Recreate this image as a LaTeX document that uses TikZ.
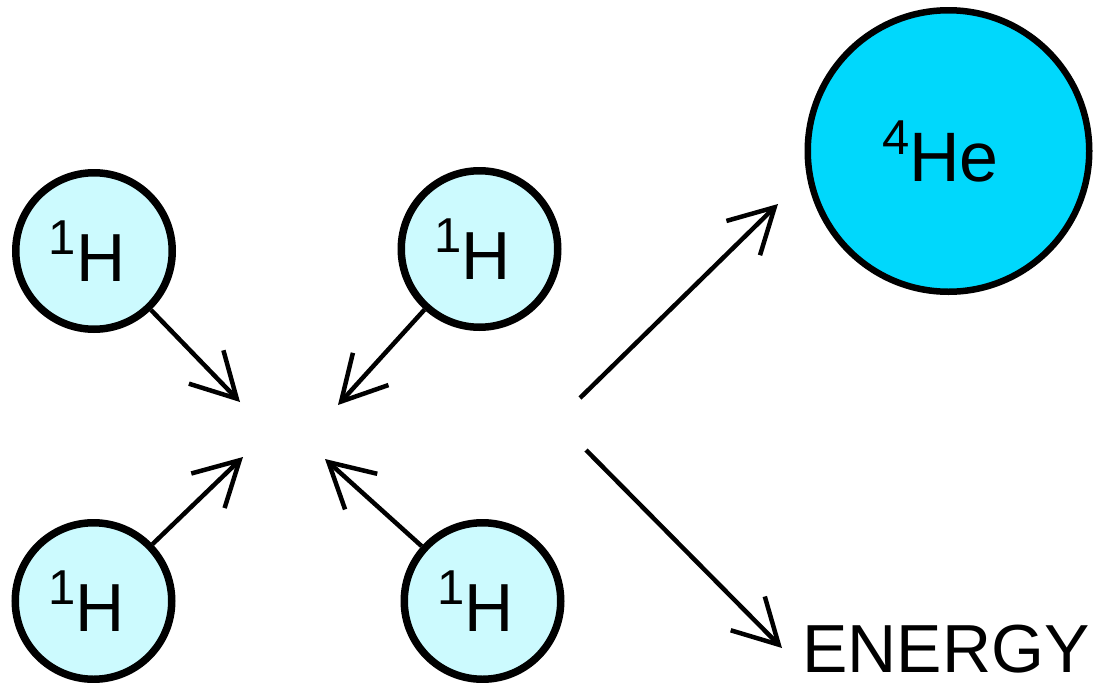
\documentclass[tikz,border=0pt]{standalone}
\usepackage{fontspec}
\setmainfont{Liberation Sans}
\usetikzlibrary{arrows.meta}

\definecolor{hydrogen}{RGB}{204,250,254}
\definecolor{helium}{RGB}{0,216,252}

% mass number raised in front of the element symbol
\newcommand{\nuclide}[2]{\raisebox{27pt}{\fontsize{49}{49}\selectfont #1}#2}

\tikzset{
  proton/.style={circle, draw=black, line width=7.5pt, fill=hydrogen,
    minimum size=156.5pt, inner sep=0pt},
  heliumnuc/.style={circle, draw=black, line width=6.5pt, fill=helium,
    minimum size=281.5pt, inner sep=0pt},
  symbol/.style={inner sep=0pt, font=\fontsize{68}{68}\selectfont},
  bigsymbol/.style={inner sep=0pt, font=\fontsize{70}{70}\selectfont},
  caption/.style={inner sep=0pt, font=\fontsize{68}{68}\selectfont},
  flow/.style={line width=4.5pt, -{Straight Barb[length=44pt, width=48pt]}},
}

\begin{document}
\begin{tikzpicture}[x=1pt, y=-1pt]
  \path[use as bounding box] (0,0) rectangle (1104,683);

  % four hydrogen nuclei
  \node[proton] (h1) at (94,251) {};
  \node[proton] (h2) at (479.5,249) {};
  \node[proton] (h3) at (93.5,601) {};
  \node[proton] (h4) at (482.5,601) {};
  \node[symbol] (h1l) at ([xshift=-7pt]h1.center) {\nuclide{1}{H}};
  \node[symbol] (h2l) at ([xshift=-7pt]h2.center) {\nuclide{1}{H}};
  \node[symbol] (h3l) at ([xshift=-7pt]h3.center) {\nuclide{1}{H}};
  \node[symbol] (h4l) at ([xshift=-7pt]h4.center) {\nuclide{1}{H}};

  % helium nucleus and released energy
  \node[heliumnuc] (he) at (948.5,151) {};
  \node[bigsymbol] (hel) at ([xshift=-8pt]he.center) {\nuclide{4}{He}};
  \node[caption, anchor=base west] (energy) at (802,672) {ENERGY};

  % points where the nuclei meet, and the outgoing paths
  \coordinate (m1) at (240,402);
  \coordinate (m2) at (338,405);
  \coordinate (m3) at (243,457);
  \coordinate (m4) at (325,459);
  \coordinate (upstart) at (580,398);
  \coordinate (upend) at (778,204);
  \coordinate (downstart) at (586,450);
  \coordinate (downend) at (782,648);

  \draw[flow] (h1) -- (m1);
  \draw[flow] (h2) -- (m2);
  \draw[flow] (h3) -- (m3);
  \draw[flow] (h4) -- (m4);
  \draw[flow] (upstart) -- (upend);
  \draw[flow] (downstart) -- (downend);
\end{tikzpicture}
\end{document}
